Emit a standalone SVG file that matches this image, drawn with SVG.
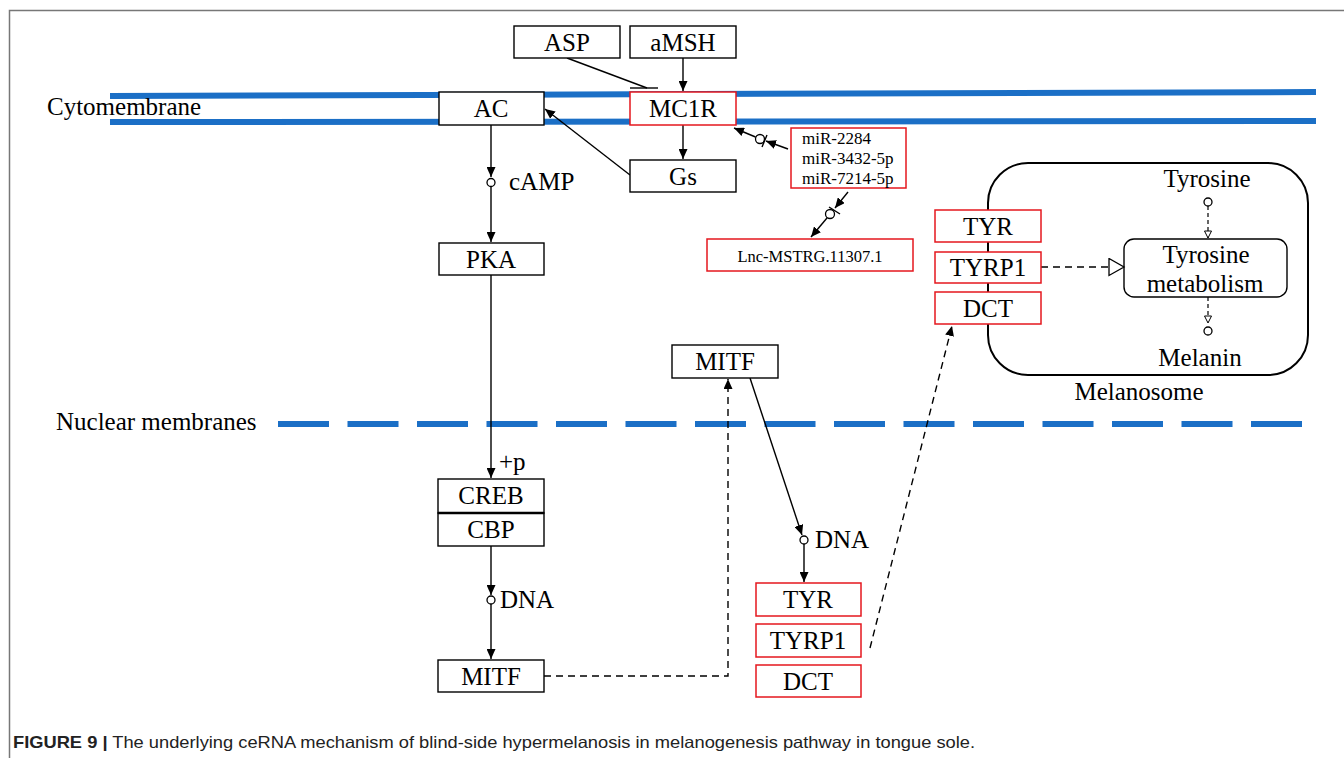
<svg xmlns="http://www.w3.org/2000/svg" width="1344" height="758" viewBox="0 0 1344 758">
<style>
.t{font-family:"Liberation Serif","Times New Roman",serif;font-size:25px;fill:#000;text-anchor:middle}
.tl{font-family:"Liberation Serif","Times New Roman",serif;font-size:25px;fill:#000}
.box{fill:#fff;stroke:#000;stroke-width:1.4}
.rbox{fill:#fff;stroke:#e5171e;stroke-width:1.5}
.ln{fill:none;stroke:#000;stroke-width:1.4}
.dl{fill:none;stroke:#000;stroke-width:1.4;stroke-dasharray:7 5}
.dl2{fill:none;stroke:#000;stroke-width:1.2;stroke-dasharray:4 3}
.mem{stroke:#1b6fc6;stroke-width:6;fill:none}
.circ{fill:#fff;stroke:#000;stroke-width:1.3}
</style>
<defs>
<marker id="arr" markerUnits="userSpaceOnUse" markerWidth="11" markerHeight="9" refX="10" refY="4.5" orient="auto">
<path d="M0,0 L10,4.5 L0,9 z" fill="#000"/>
</marker>
<marker id="tri" markerUnits="userSpaceOnUse" markerWidth="18" markerHeight="20" refX="16" refY="9.5" orient="auto">
<path d="M1,1 L16,9.5 L1,18 z" fill="#fff" stroke="#000" stroke-width="1.3"/>
</marker>
<marker id="tri2" markerUnits="userSpaceOnUse" markerWidth="10" markerHeight="10" refX="8" refY="4.5" orient="auto">
<path d="M1,1 L8,4.5 L1,8 z" fill="#fff" stroke="#000" stroke-width="1"/>
</marker>
</defs>
<rect width="1344" height="758" fill="#fff"/>
<g id="frame">
<path d="M9.5,758 L9.5,10.5 L1344,10.5" fill="none" stroke="#777" stroke-width="1.5"/>
</g>
<g id="membranes">
<path class="mem" d="M110,96 L1316,92"/>
<path class="mem" d="M110,122 L1316,121"/>
<path class="mem" d="M278,424 L1303,424" stroke-dasharray="51 18.5"/>
<text class="tl" x="47" y="115">Cytomembrane</text>
<text class="tl" x="56" y="430">Nuclear membranes</text>
</g>
<g id="melanosome">
<rect x="988" y="163" width="320" height="212" rx="40" ry="40" fill="#fff" stroke="#000" stroke-width="2"/>
<text class="t" x="1139" y="400">Melanosome</text>
<text class="t" x="1207" y="187">Tyrosine</text>
<text class="t" x="1200" y="366">Melanin</text>
</g>
<g id="tyrosine-metabolism">
<rect x="1124" y="239" width="163" height="58" rx="10" ry="10" fill="#fff" stroke="#000" stroke-width="1.4"/>
<text class="t" x="1206" y="263">Tyrosine</text>
<text class="t" x="1205" y="292">metabolism</text>
</g>
<g id="connectors">
<path class="ln" d="M567,58 L647,88"/>
<path class="ln" d="M630,88 L658,88"/>
<path class="ln" d="M683,58 L683,91" marker-end="url(#arr)"/>
<path class="ln" d="M683,125 L683,159" marker-end="url(#arr)"/>
<path class="ln" d="M630,175 L545,109" marker-end="url(#arr)"/>
<path class="ln" d="M491,125 L491,177" marker-end="url(#arr)"/>
<circle class="circ" cx="491" cy="182.5" r="4"/>
<path class="ln" d="M491,187 L491,242" marker-end="url(#arr)"/>
<path class="ln" d="M491,275 L491,478" marker-end="url(#arr)"/>
<path class="ln" d="M491,546 L491,595" marker-end="url(#arr)"/>
<circle class="circ" cx="491" cy="600" r="4"/>
<path class="ln" d="M491,604 L491,659" marker-end="url(#arr)"/>
<path class="dl" d="M544,676 L728,676 L728,379" marker-end="url(#arr)"/>
<path class="ln" d="M750,378 L802,535" marker-end="url(#arr)"/>
<circle class="circ" cx="804" cy="540" r="4"/>
<path class="ln" d="M804,544 L804,582" marker-end="url(#arr)"/>
<path class="dl" d="M870,648 L952,326" marker-end="url(#arr)"/>
<path class="ln" d="M788,149 L766,141" marker-end="url(#arr)"/>
<circle class="circ" cx="760" cy="139" r="4.5"/>
<path class="ln" d="M762,147 L767,135"/>
<path class="ln" d="M755.5,137 L734,128" marker-end="url(#arr)"/>
<path class="ln" d="M848,192 L835,208" marker-end="url(#arr)"/>
<circle class="circ" cx="830" cy="214" r="4.5"/>
<path class="ln" d="M829,207 L840,214"/>
<path class="ln" d="M827,218 L811,237" marker-end="url(#arr)"/>
<path class="dl" d="M1041,267 L1124,267" marker-end="url(#tri)"/>
<circle class="circ" cx="1208" cy="202" r="4"/>
<path class="dl2" d="M1208,206 L1208,238" marker-end="url(#tri2)"/>
<path class="dl2" d="M1208,297 L1208,323" marker-end="url(#tri2)"/>
<circle class="circ" cx="1208" cy="331" r="4"/>
</g>
<g id="labels">
<text class="tl" x="509" y="190">cAMP</text>
<text class="tl" x="499" y="470">+p</text>
<text class="tl" x="500" y="608">DNA</text>
<text class="tl" x="815" y="548">DNA</text>
</g>
<g id="node-asp"><rect class="box" x="514" y="26" width="106" height="32"/><text class="t" x="567" y="51">ASP</text></g>
<g id="node-amsh"><rect class="box" x="630" y="26" width="106" height="32"/><text class="t" x="683" y="51">aMSH</text></g>
<g id="node-mc1r"><rect class="rbox" x="630" y="92" width="106" height="33"/><text class="t" x="683" y="117">MC1R</text></g>
<g id="node-ac"><rect class="box" x="439" y="92" width="105" height="33"/><text class="t" x="491" y="117">AC</text></g>
<g id="node-gs"><rect class="box" x="630" y="160" width="106" height="32"/><text class="t" x="683" y="185">Gs</text></g>
<g id="node-mir"><rect class="rbox" x="791" y="128" width="115" height="60"/>
<text class="tl" x="802" y="144" style="font-size:17px">miR-2284</text>
<text class="tl" x="802" y="164" style="font-size:17px">miR-3432-5p</text>
<text class="tl" x="802" y="184" style="font-size:17px">miR-7214-5p</text></g>
<g id="node-lnc"><rect class="rbox" x="707" y="239" width="206" height="32"/><text class="t" x="810" y="262" style="font-size:16.5px">Lnc-MSTRG.11307.1</text></g>
<g id="node-pka"><rect class="box" x="439" y="243" width="105" height="32"/><text class="t" x="491" y="268">PKA</text></g>
<g id="node-creb"><rect class="box" x="438" y="479" width="106" height="34"/><text class="t" x="491" y="504">CREB</text></g>
<g id="node-cbp"><rect class="box" x="438" y="513" width="106" height="33"/><text class="t" x="491" y="538">CBP</text></g>
<path d="M438,513 L544,513" stroke="#000" stroke-width="2.5"/>
<g id="node-mitf-bottom"><rect class="box" x="438" y="660" width="106" height="32"/><text class="t" x="491" y="685">MITF</text></g>
<g id="node-mitf-top"><rect class="box" x="672" y="345" width="106" height="33"/><text class="t" x="725" y="370">MITF</text></g>
<g id="node-tyr-bottom"><rect class="rbox" x="756" y="583" width="105" height="33"/><text class="t" x="808" y="608">TYR</text></g>
<g id="node-tyrp1-bottom"><rect class="rbox" x="756" y="624" width="105" height="33"/><text class="t" x="808" y="649">TYRP1</text></g>
<g id="node-dct-bottom"><rect class="rbox" x="756" y="665" width="105" height="32"/><text class="t" x="808" y="690">DCT</text></g>
<g id="node-tyr-top"><rect class="rbox" x="935" y="210" width="106" height="32"/><text class="t" x="988" y="235">TYR</text></g>
<g id="node-tyrp1-top"><rect class="rbox" x="935" y="252" width="106" height="31"/><text class="t" x="988" y="276">TYRP1</text></g>
<g id="node-dct-top"><rect class="rbox" x="935" y="292" width="106" height="32"/><text class="t" x="988" y="317">DCT</text></g>
<g id="caption">
<text x="13" y="748" textLength="962" lengthAdjust="spacingAndGlyphs" style="font-family:'Liberation Sans Narrow','Liberation Sans',Arial,sans-serif;font-size:16.5px;fill:#222"><tspan font-weight="bold">FIGURE 9 |</tspan> The underlying ceRNA mechanism of blind-side hypermelanosis in melanogenesis pathway in tongue sole.</text>
</g>
</svg>
